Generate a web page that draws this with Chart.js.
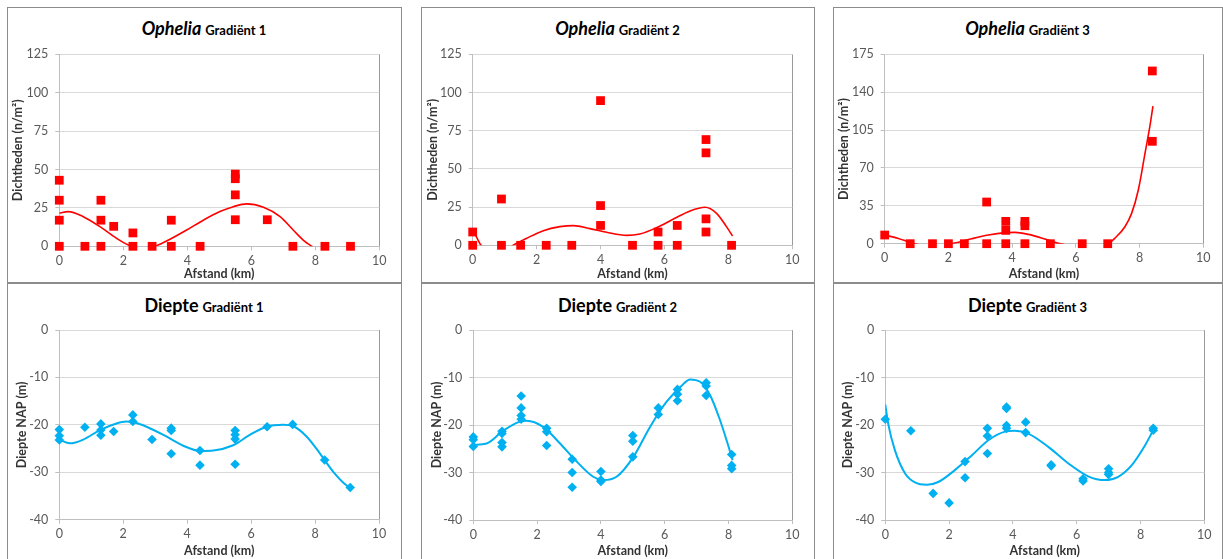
<!DOCTYPE html>
<html>
<head>
<meta charset="utf-8">
<script src="https://cdn.jsdelivr.net/npm/chart.js@4.4.0/dist/chart.umd.min.js"></script>
<style>
  body { margin:0; background:#fff; width:1223px; height:559px; overflow:hidden; position:relative; font-family: Lato, sans-serif; }
  .panel { position:absolute; border:1px solid #8c8c8c; box-sizing:border-box; }
  .title { position:absolute; text-align:center; font-weight:bold; color:#000; white-space:nowrap; height:22px; line-height:22px; }
  .title .big { font-size:18px; }
  .title .small { font-size:13px; }
  canvas { position:absolute; }
</style>
</head>
<body>
<script>
// Tick labels
const xTicks = [0, 2, 4, 6, 8, 10];
const yTicksDicht = [0, 25, 50, 75, 100, 125];
const yTicksDicht3 = [0, 35, 70, 105, 140, 175];
const yTicksDiepte = [-40, -30, -20, -10, 0];

// Ophelia gradient 1
const oph1X = [0, 0, 0, 0, 0.8, 1.3, 1.3, 1.3, 1.7, 2.3, 2.3, 2.9, 3.5, 3.5, 4.4, 5.5, 5.5, 5.5, 5.5, 6.5, 7.3, 8.3, 9.1];
const oph1Y = [43, 30, 17, 0, 0, 30, 17, 0, 13, 8.7, 0, 0, 17, 0, 0, 47, 44, 33.5, 17.3, 17.3, 0, 0, 0];
const oph1TrendX = [0, 0.28, 0.75, 1.27, 1.79, 2.16, 2.29, 2.65, 3.04, 3.46, 3.98, 4.5, 5.02, 5.44, 5.85, 6.38, 6.9, 7.31, 7.68, 7.89, 8.1];
const oph1TrendY = [21.5, 22.6, 19.3, 12.8, 5.2, 0.9, 0, -1.5, 0.4, 4.6, 10.6, 17, 22.6, 25.8, 27.6, 25.4, 19.3, 10.6, 3, 0, -4];

// Ophelia gradient 2
const oph2X = [0, 0, 0.9, 0.9, 1.5, 2.3, 3.1, 4, 4, 4, 5, 5.8, 5.8, 6.4, 6.4, 7.3, 7.3, 7.3, 7.3, 8.1];
const oph2Y = [8.7, 0, 30.3, 0, 0, 0, 0, 94.7, 26, 13, 0, 8.7, 0, 13, 0, 69.2, 60.5, 17.3, 8.7, 0];
const oph2TrendX = [0, 0.13, 0.26, 0.75, 1.27, 1.69, 2.21, 2.73, 3.15, 3.67, 4.19, 4.82, 5.23, 5.76, 6.28, 6.8, 7.27, 7.63, 7.94, 8.13];
const oph2TrendY = [10.5, 5, 0, -8, 0, 4.6, 9.6, 12.2, 12.9, 10.9, 8.5, 6.5, 7.4, 11.6, 17.2, 22.5, 24.9, 20.9, 12.2, 6.1];

// Ophelia gradient 3
const oph3X = [0, 0.8, 1.5, 2, 2.5, 3.2, 3.2, 3.8, 3.8, 3.8, 4.4, 4.4, 4.4, 5.2, 6.2, 7, 8.4, 8.4];
const oph3Y = [8, 0, 0, 0, 0, 38.5, 0, 20.6, 12.3, 0, 20.6, 16.6, 0, 0, 0, 0, 159.6, 94.6];
const oph3TrendX = [0, 0.43, 0.85, 0.95, 1.5, 2.1, 2.2, 2.73, 3.25, 3.78, 4.09, 4.51, 5.03, 5.45, 5.6, 6.3, 7.02, 7.22, 7.54, 7.75, 7.96, 8.17, 8.33, 8.42];
const oph3TrendY = [8, 4.9, 0.6, 0, -3, 0, 0.6, 4.6, 8, 10.2, 10.5, 8.6, 4.3, 0.3, -0.5, -6, 0, 4.9, 15.7, 28, 49.6, 83.5, 109.7, 127.2];

// Diepte gradient 1
const diep1X = [0, 0, 0, 0.8, 1.3, 1.3, 1.3, 1.7, 2.3, 2.3, 2.9, 3.5, 3.5, 3.5, 4.4, 4.4, 5.5, 5.5, 5.5, 5.5, 6.5, 7.3, 8.3, 9.1];
const diep1Y = [-21, -22.3, -23.2, -20.5, -19.8, -21.1, -22.2, -21.4, -17.9, -19.3, -23.1, -20.7, -21.2, -26.1, -25.4, -28.5, -21.2, -22.1, -23, -28.3, -20.4, -19.9, -27.4, -33.2];
const diep1TrendX = [0, 0.33, 0.75, 1.27, 1.79, 2.1, 2.31, 2.73, 3.36, 3.88, 4.4, 4.82, 5.44, 5.96, 6.49, 7.0, 7.32, 7.74, 8.15, 8.57, 8.99, 9.1];
const diep1TrendY = [-23.1, -23.9, -23.1, -21.1, -19.7, -19.3, -19.4, -20.4, -22.5, -24.4, -25.5, -25.4, -24.3, -22.1, -20.4, -20.0, -20.3, -22.5, -26, -29.9, -32.8, -33.2];

// Diepte gradient 2
const diep2X = [0, 0, 0, 0.9, 0.9, 0.9, 0.9, 1.5, 1.5, 1.5, 1.5, 2.3, 2.3, 2.3, 3.1, 3.1, 3.1, 4, 4, 4, 5, 5, 5, 5.8, 5.8, 6.4, 6.4, 6.4, 7.3, 7.3, 7.3, 8.1, 8.1, 8.1];
const diep2Y = [-22.5, -23.1, -24.5, -21.3, -21.8, -23.7, -24.6, -13.9, -16.4, -18, -18.8, -20.7, -21.4, -24.3, -27.2, -30, -33.1, -29.8, -31.6, -31.9, -22.2, -23.4, -26.7, -16.4, -17.8, -12.5, -13.5, -14.9, -11.1, -11.8, -13.8, -26.2, -28.5, -29.2];
const diep2TrendX = [0, 0.42, 0.94, 1.46, 1.67, 2.19, 2.72, 3.24, 3.76, 4.08, 4.49, 5.02, 5.54, 6.06, 6.58, 6.79, 7.11, 7.42, 7.73, 7.94, 8.13];
const diep2TrendY = [-24.2, -23.9, -21.2, -19.3, -19.1, -20.4, -23.9, -27.7, -30.9, -31.6, -30.9, -26.7, -20.4, -15.1, -11.4, -10.4, -10.9, -13.7, -18.9, -23.2, -27.4];

// Diepte gradient 3
const diep3X = [0, 0.8, 1.5, 2, 2.5, 2.5, 3.2, 3.2, 3.2, 3.8, 3.8, 3.8, 3.8, 4.4, 4.4, 5.2, 5.2, 6.2, 6.2, 7, 7, 7, 8.4, 8.4];
const diep3Y = [-18.8, -21.2, -34.4, -36.4, -27.7, -31.1, -20.7, -22.3, -26, -16.2, -16.5, -20.1, -20.7, -19.4, -21.6, -28.4, -28.6, -31.3, -31.8, -29.2, -30, -30.4, -20.7, -21.1];
const diep3TrendX = [0, 0.09, 0.3, 0.62, 0.93, 1.3, 1.66, 2.18, 2.71, 3.23, 3.75, 4.06, 4.48, 5.11, 5.74, 6.36, 6.89, 7.3, 7.72, 8.14, 8.4];
const diep3TrendY = [-15.7, -19.7, -25.3, -30.2, -32.1, -32.6, -32, -29.5, -26.4, -23.2, -21.4, -21.2, -21.8, -24.6, -28.1, -30.8, -31.6, -30.9, -28.5, -24.3, -21.1];

const RED = '#FF0000';
const CYAN = '#00B0F0';
const TITLE_SIZE = 12.5;
const TICK_SIZE = 12.5;

// layout of the six panels (page pixels)
const panels = [
  { head: 'Ophelia', italic: true, grad: 'Gradiënt 1', box: [7, 7, 401, 282], plot: [59.3, 54.3, 379.3, 246.3], yTitleX: 18, xTitleY: 274, titleY: 28,
    xs: oph1X, ys: oph1Y, tx: oph1TrendX, ty: oph1TrendY, yTicks: yTicksDicht, yLabel: 'Dichtheden (n/m²)', color: RED, marker: 'rect' },
  { head: 'Ophelia', italic: true, grad: 'Gradiënt 2', box: [421, 7, 814, 282], plot: [472.7, 54.3, 792.3, 245.3], yTitleX: 432.7, xTitleY: 274, titleY: 28,
    xs: oph2X, ys: oph2Y, tx: oph2TrendX, ty: oph2TrendY, yTicks: yTicksDicht, yLabel: 'Dichtheden (n/m²)', color: RED, marker: 'rect' },
  { head: 'Ophelia', italic: true, grad: 'Gradiënt 3', box: [833, 7, 1222, 282], plot: [884.7, 54.3, 1203.3, 243.7], yTitleX: 844.3, xTitleY: 274, titleY: 28,
    xs: oph3X, ys: oph3Y, tx: oph3TrendX, ty: oph3TrendY, yTicks: yTicksDicht3, yLabel: 'Dichtheden (n/m²)', color: RED, marker: 'rect' },
  { head: 'Diepte', italic: false, grad: 'Gradiënt 1', box: [7, 283, 401, 559], plot: [59.3, 330, 379, 519.7], yTitleX: 21.7, xTitleY: 550.7, titleY: 305,
    xs: diep1X, ys: diep1Y, tx: diep1TrendX, ty: diep1TrendY, yTicks: yTicksDiepte, yLabel: 'Diepte NAP (m)', color: CYAN, marker: 'rectRot' },
  { head: 'Diepte', italic: false, grad: 'Gradiënt 2', box: [421, 283, 814, 559], plot: [473.3, 330, 792.3, 520], yTitleX: 436.7, xTitleY: 550.7, titleY: 305,
    xs: diep2X, ys: diep2Y, tx: diep2TrendX, ty: diep2TrendY, yTicks: yTicksDiepte, yLabel: 'Diepte NAP (m)', color: CYAN, marker: 'rectRot' },
  { head: 'Diepte', italic: false, grad: 'Gradiënt 3', box: [833, 283, 1222, 559], plot: [885.3, 330, 1204.3, 520], yTitleX: 848.3, xTitleY: 550.7, titleY: 305,
    xs: diep3X, ys: diep3Y, tx: diep3TrendX, ty: diep3TrendY, yTicks: yTicksDiepte, yLabel: 'Diepte NAP (m)', color: CYAN, marker: 'rectRot' }
];

function toPoints(xs, ys) {
  return xs.map((x, i) => ({ x: x, y: ys[i] }));
}

function makePanel(p) {
  const [bl, bt, br, bb] = p.box;
  // border frame
  const frame = document.createElement('div');
  frame.className = 'panel';
  frame.style.left = bl + 'px';
  frame.style.top = bt + 'px';
  frame.style.width = (br - bl + 1) + 'px';
  frame.style.height = (bb >= 559 ? 300 : bb - bt + 1) + 'px';
  document.body.appendChild(frame);

  // title as html text
  const title = document.createElement('div');
  title.className = 'title';
  title.style.left = bl + 'px';
  title.style.width = (br - bl) + 'px';
  title.style.top = (p.titleY - 11) + 'px';
  title.innerHTML = `<span class="big" style="font-style:${p.italic ? 'italic' : 'normal'}">${p.head}</span> <span class="small">${p.grad}</span>`;
  document.body.appendChild(title);

  const cl = bl + 1, ct = bt + 1, cw = br - bl - 1, ch = Math.min(bb, 559) - bt - 1;
  const canvas = document.createElement('canvas');
  canvas.width = cw;
  canvas.height = ch;
  canvas.style.left = cl + 'px';
  canvas.style.top = ct + 'px';
  canvas.style.width = cw + 'px';
  canvas.style.height = ch + 'px';
  document.body.appendChild(canvas);

  const half = TITLE_SIZE * 1.2 / 2;
  const [pl, pt, pr, pb] = p.plot;
  const scaleLeft = p.yTitleX - half;
  const wY = pl - scaleLeft;
  const hX = p.xTitleY + half - pb;
  const pad = {
    left: scaleLeft - cl,
    top: pt - ct,
    right: cl + cw - pr,
    bottom: Math.max(0, ct + ch - (p.xTitleY + half))
  };
  const yMin = p.yTicks[0], yMax = p.yTicks[p.yTicks.length - 1];

  new Chart(canvas, {
    type: 'scatter',
    data: {
      datasets: [
        {
          data: toPoints(p.tx, p.ty),
          showLine: true,
          borderColor: p.color,
          borderWidth: p.color === RED ? 1.6 : 2,
          pointRadius: 0,
          cubicInterpolationMode: 'monotone',
          fill: false
        },
        {
          data: toPoints(p.xs, p.ys),
          pointStyle: p.marker,
          pointRadius: p.marker === 'rect' ? 6.2 : 4.8,
          pointBackgroundColor: p.color,
          pointBorderWidth: 0,
          showLine: false,
          clip: false
        }
      ]
    },
    options: {
      responsive: false,
      animation: false,
      layout: { padding: pad },
      plugins: { legend: { display: false }, tooltip: { enabled: false } },
      scales: {
        x: {
          type: 'linear', min: 0, max: 10,
          afterBuildTicks: s => { s.ticks = xTicks.map(v => ({ value: v })); },
          afterFit: s => { s.height = hX; },
          border: { color: '#BFBFBF' },
          grid: {
            color: c => (c.tick && c.tick.value === 10) ? '#9a9a9a' : 'rgba(0,0,0,0)',
            tickColor: '#BFBFBF', tickLength: 4
          },
          ticks: { color: '#595959', font: { family: 'Lato', size: TICK_SIZE }, padding: 3, maxRotation: 0 },
          title: { display: true, text: 'Afstand (km)', color: '#333', font: { family: 'Lato', size: TITLE_SIZE, weight: 'bold' }, padding: 0 }
        },
        y: {
          type: 'linear', min: yMin, max: yMax,
          afterBuildTicks: s => { s.ticks = p.yTicks.map(v => ({ value: v })); },
          afterFit: s => { s.width = wY; },
          border: { color: '#BFBFBF' },
          grid: { color: '#D9D9D9', tickColor: '#BFBFBF', tickLength: 4 },
          ticks: { color: '#595959', font: { family: 'Lato', size: TICK_SIZE }, padding: 7 },
          title: { display: true, text: p.yLabel, color: '#333', font: { family: 'Lato', size: TITLE_SIZE, weight: 'bold' }, padding: 0 }
        }
      }
    }
  });
}

panels.forEach(makePanel);
</script>
</body>
</html>
